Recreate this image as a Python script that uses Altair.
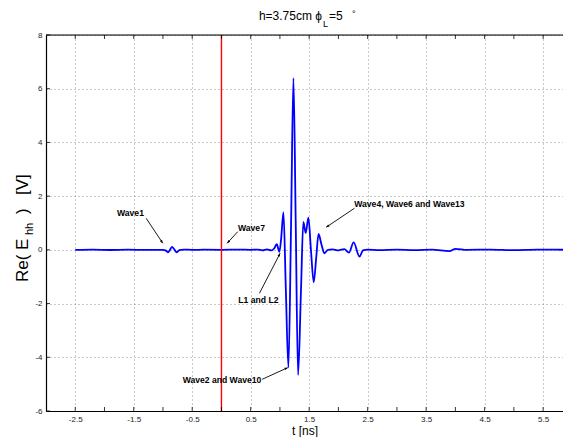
import math
import altair as alt
import pandas as pd

# ---------------- data ----------------
t_ns = [-2.5, -2.2, -1.9, -1.6, -1.3, -1.0, -0.95, -0.915, -0.875, -0.845, -0.81, -0.765,
        -0.72, -0.65, -0.5, -0.3, 0.0, 0.3, 0.5, 0.62, 0.7, 0.78, 0.85, 0.9, 0.945, 0.99,
        1.02, 1.06, 1.10, 1.145, 1.19, 1.231, 1.27, 1.31, 1.36, 1.40, 1.44, 1.487, 1.53,
        1.578, 1.62, 1.66, 1.71, 1.76, 1.82, 1.9, 2.0, 2.1, 2.18, 2.26, 2.36, 2.42, 2.5,
        2.7, 3.0, 3.3, 3.6, 3.9, 4.0, 4.2, 4.6, 5.0, 5.4, 6.0]
re_ehh = [0.0, 0.005, -0.005, 0.005, 0.0, 0.0, -0.03, -0.09, 0.02, 0.11, 0.03, -0.09,
          -0.01, 0.01, 0.0, 0.005, 0.0, 0.01, 0.0, 0.01, -0.02, 0.02, -0.02, 0.05, 0.21, -0.07,
          0.4, 1.40, -1.4, -4.38, 0.9, 6.39, 1.0, -4.66, -1.5, 1.04, 0.63, 1.20, 0.0,
          -1.21, -0.3, 0.59, 0.2, -0.13, 0.0, 0.02, -0.02, 0.03, -0.1, 0.28, -0.25, -0.02, 0.01,
          -0.01, 0.01, -0.01, 0.01, -0.05, 0.04, 0.0, 0.01, -0.01, 0.01, 0.0]

x_ticks = [-2.5, -2.0, -1.5, -1.0, -0.5, 0.0, 0.5, 1.0, 1.5, 2.0, 2.5, 3.0, 3.5, 4.0, 4.5, 5.0, 5.5]
y_ticks = [-6, -4, -2, 0, 2, 4, 6, 8]

ann_text = ["Wave1", "Wave7", "L1 and L2", "Wave2 and Wave10", "Wave4, Wave6 and Wave13"]
ann_tx = [-1.556, 0.513, 0.632, 0.009, 3.214]
ann_ty = [1.355, 0.80, -1.86, -4.84, 1.72]
arr_x1 = [-1.287, 0.279, 0.650, 0.696, 2.274]
arr_y1 = [1.176, 0.678, -1.616, -4.82, 1.549]
arr_x2 = [-1.003, 0.097, 1.003, 1.134, 1.790]
arr_y2 = [0.246, 0.246, -0.127, -4.386, 0.841]

marker_t = [0.0]

# ---------------- layout ----------------
PXU = 58.5            # px per ns, as in the reference
XD = [-3, 5.84]       # right part is cut by the window in the reference
YD = [-6, 8]
W = round((XD[1] - XD[0]) * PXU)
H = 376
px_x = W / (XD[1] - XD[0])
px_y = H / (YD[1] - YD[0])

FONT = "Liberation Sans"

xs = alt.Scale(domain=XD, nice=False, zero=False)
ys = alt.Scale(domain=YD, nice=False, zero=False)

wave = pd.DataFrame({"t": t_ns, "v": re_ehh})
angles = []
for a, b, c, d in zip(arr_x1, arr_y1, arr_x2, arr_y2):
    dx = (c - a) * px_x
    dy = -(d - b) * px_y
    angles.append((math.degrees(math.atan2(dx, -dy)) + 360) % 360)
ann = pd.DataFrame({"text": ann_text, "tx": ann_tx, "ty": ann_ty,
                    "x1": arr_x1, "y1": arr_y1, "x2": arr_x2, "y2": arr_y2,
                    "ang": angles})
xt = pd.DataFrame({"t": x_ticks})
yt = pd.DataFrame({"v": y_ticks})
mk = pd.DataFrame({"t": marker_t})

base_x_axis = alt.Axis(values=x_ticks, grid=True, gridDash=[1, 3], gridColor="#777",
                       gridWidth=0.8, ticks=False, domainColor="black", domainWidth=1.2,
                       labelExpr="datum.value % 1 != 0 ? '' + datum.value : ''",
                       labelFont=FONT, labelFontSize=8, labelColor="#222", labelPadding=4,
                       title="t [ns]", titleFont=FONT, titleFontSize=12,
                       titleFontWeight="normal", titleColor="black", titlePadding=2)
base_y_axis = alt.Axis(values=y_ticks, grid=True, gridDash=[1, 3], gridColor="#777",
                       gridWidth=0.8, ticks=False, domainColor="black", domainWidth=1.2,
                       labelExpr="'' + datum.value",
                       labelFont=FONT, labelFontSize=8, labelColor="#222", labelPadding=4,
                       title=None)

line = alt.Chart(wave).mark_line(color="#0000ff", strokeWidth=1.8, interpolate="monotone",
                                 clip=True).encode(
    x=alt.X("t:Q", scale=xs, axis=base_x_axis),
    y=alt.Y("v:Q", scale=ys, axis=base_y_axis),
)

red = alt.Chart(mk).mark_rule(color="#ff0000", strokeWidth=1.4).encode(
    x=alt.X("t:Q", scale=xs), y=alt.value(0), y2=alt.value(H))

top_border = alt.Chart(mk).mark_rule(color="black", strokeWidth=1.2).encode(
    x=alt.value(0), x2=alt.value(W), y=alt.value(0))

xtick_b = alt.Chart(xt).mark_rule(color="black", strokeWidth=0.8).encode(
    x=alt.X("t:Q", scale=xs), y=alt.value(H), y2=alt.value(H - 4))
xtick_t = alt.Chart(xt).mark_rule(color="black", strokeWidth=0.8).encode(
    x=alt.X("t:Q", scale=xs), y=alt.value(0), y2=alt.value(4))
ytick_l = alt.Chart(yt).mark_rule(color="black", strokeWidth=0.8).encode(
    y=alt.Y("v:Q", scale=ys), x=alt.value(0), x2=alt.value(4))

arrows = alt.Chart(ann).mark_rule(color="black", strokeWidth=0.9).encode(
    x=alt.X("x1:Q", scale=xs), y=alt.Y("y1:Q", scale=ys),
    x2="x2:Q", y2="y2:Q")
heads = alt.Chart(ann).mark_point(shape="M0,0L-0.38,1L0.38,1Z", filled=True, color="black",
                                  size=42, opacity=1).encode(
    x=alt.X("x2:Q", scale=xs), y=alt.Y("y2:Q", scale=ys), angle=alt.Angle("ang:Q", scale=None))
labels = alt.Chart(ann).mark_text(font=FONT, fontSize=8.6, fontWeight="bold", color="black").encode(
    x=alt.X("tx:Q", scale=xs), y=alt.Y("ty:Q", scale=ys), text="text:N")


def txt(s, x, y, size, angle=0, align="left", baseline="alphabetic"):
    return alt.Chart(pd.DataFrame({"s": [s]})).mark_text(
        font=FONT, fontSize=size, align=align, baseline=baseline, angle=angle, color="black"
    ).encode(x=alt.value(x), y=alt.value(y), text="s:N")


title_parts = [
    txt("h=3.75cm \u03d5", 276, -15, 12, align="right"),
    txt("L", 277, -8, 9),
    txt("=5", 283, -15, 12),
    txt("\u00b0", 306, -18, 9),
]
ytitle_parts = [
    txt("Re( E", -18, 247, 17, angle=270),
    txt("hh", -13, 200, 11, angle=270),
    txt(")", -18, 179, 17, angle=270),
    txt("[V]", -18, 160, 17, angle=270),
]

chart = alt.layer(
    line, red, top_border, xtick_b, xtick_t, ytick_l, arrows, heads, labels,
    *title_parts, *ytitle_parts
).properties(
    width=W, height=H,
    autosize=alt.AutoSizeParams(type="none"),
    padding={"left": 38, "top": 27, "right": 0, "bottom": 26},
).configure_view(stroke=None).configure(background="white")

chart.save("out.html", embed_options={"renderer": "svg", "actions": False})
